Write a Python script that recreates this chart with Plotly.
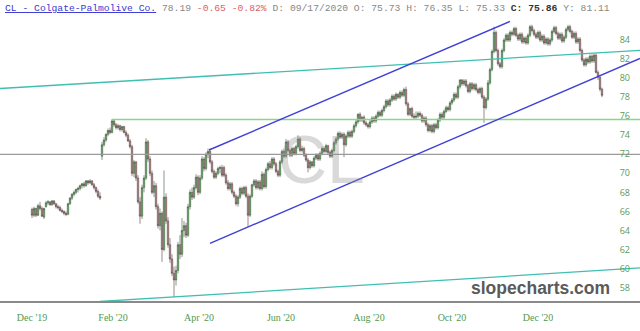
import plotly.graph_objects as go

# ---- OHLC data (one entry per trading day, index 0 = early Dec 2019) ----
opens = [
 66.2,65.6,66.3,65.6,66.6,66.3,65.4,66.5,66.9,67.0,
 66.7,67.1,66.8,66.5,66.4,66.1,66.0,65.8,65.7,66.8,
 67.4,67.8,68.0,68.3,68.4,68.7,68.9,68.7,69.2,69.0,
 69.2,68.8,68.5,68.1,67.6,
 71.8,73.0,73.5,74.1,74.5,74.3,75.5,75.1,74.8,75.0,
 74.6,74.9,74.3,74.0,73.4,72.8,70.0,71.2,69.5,67.0,
 65.5,68.5,69.5,73.3,71.5,70.0,68.0,68.7,66.5,64.5,
 65.8,62.0,67.5,65.0,62.5,61.0,59.5,58.8,59.8,62.5,
 61.5,64.0,64.5,63.5,66.5,68.0,67.5,68.5,69.6,68.0,
 69.5,71.5,70.5,72.0,
 72.3,71.2,70.2,69.6,70.0,70.5,70.6,70.6,69.8,69.0,
 68.4,68.9,68.0,67.6,66.8,67.5,68.4,67.9,68.5,67.6,
 65.6,67.6,68.8,69.2,68.5,69.1,68.4,69.9,68.6,70.4,
 71.0,70.6,71.5,71.0,70.2,69.8,71.2,72.3,71.8,73.3,
 72.4,71.9,72.6,72.1,72.8,73.6,72.4,72.6,71.9,71.4,
 70.6,71.2,70.8,71.6,71.9,71.5,72.1,72.6,72.3,72.9,
 72.2,71.8,72.4,73.2,73.6,74.2,73.8,74.1,73.0,73.9,
 74.3,73.9,74.4,75.0,75.4,76.2,75.6,75.9,75.3,75.1,
 74.9,75.4,75.8,75.5,76.0,76.4,76.1,76.6,77.0,77.6,
 77.2,77.7,78.1,77.8,78.3,78.0,78.5,78.2,78.8,77.3,
 76.2,76.8,76.0,75.9,76.0,76.3,76.1,75.5,75.8,75.1,
 74.5,75.0,74.4,75.1,74.8,75.6,76.2,75.9,76.5,76.9,
 76.7,77.4,77.7,78.3,78.0,79.1,79.8,79.4,79.7,79.2,
 78.6,79.4,78.9,79.3,78.8,78.5,78.9,78.0,76.9,77.8,
 79.5,80.9,82.8,84.8,82.9,81.5,81.2,82.9,84.0,84.5,
 84.0,84.8,84.6,85.2,84.5,84.1,84.6,83.8,84.2,83.7,
 84.5,85.4,85.0,84.6,84.3,84.8,84.0,84.4,83.7,84.1,
 83.6,84.0,84.9,85.3,84.7,84.2,84.6,83.9,84.3,85.1,
 85.4,84.9,84.3,84.7,83.8,84.1,82.9,81.9,81.4,82.0,
 81.7,82.3,81.8,82.4,80.6,80.1,78.84,
]
highs = [
 66.4,66.5,66.4,66.8,67.0,66.5,66.4,67.1,67.2,67.1,
 67.2,67.2,66.9,66.7,66.6,66.3,66.1,66.0,66.9,67.5,
 67.9,68.2,68.4,68.6,68.8,69.0,69.1,69.3,69.3,69.4,
 69.3,69.0,68.6,68.3,68.0,
 73.3,73.8,74.2,74.7,74.8,75.7,75.6,75.3,75.2,75.1,
 75.0,75.0,74.5,74.2,73.6,73.0,71.4,71.3,69.8,67.5,
 68.8,69.8,73.7,73.5,71.8,70.3,69.2,69.0,66.8,66.3,
 66.0,70.3,67.9,65.4,63.2,61.5,60.2,60.3,62.8,63.5,
 65.3,65.0,64.8,66.8,68.3,68.5,68.8,69.9,69.8,69.8,
 71.8,71.7,72.2,72.6,
 72.6,71.4,70.4,70.2,70.7,70.8,70.9,70.8,70.0,69.3,
 69.1,69.1,68.2,67.8,67.7,68.6,68.6,68.7,68.7,67.9,
 67.8,68.9,69.4,69.4,69.3,69.3,70.2,70.1,70.6,71.2,
 71.3,71.7,71.7,71.2,70.4,71.4,72.5,72.5,73.6,73.5,
 72.6,72.8,72.8,73.0,74.0,73.8,72.9,72.8,72.1,71.6,
 71.4,71.3,71.8,72.1,72.1,72.3,72.8,72.8,73.1,73.0,
 72.4,72.6,73.4,73.8,74.4,74.4,74.3,74.3,74.1,74.5,
 74.5,74.6,75.2,75.6,76.3,76.4,76.0,76.1,75.5,75.3,
 75.6,76.0,76.0,76.2,76.6,76.6,76.8,77.2,77.8,77.8,
 77.9,78.3,78.3,78.5,78.4,78.7,78.7,79.0,79.1,77.5,
 76.9,77.0,76.3,76.5,76.5,76.5,76.3,76.0,76.0,75.3,
 75.2,75.2,75.3,75.3,75.8,76.4,76.4,76.7,77.1,77.1,
 77.6,77.9,78.5,78.5,79.3,79.9,79.9,79.9,79.9,79.4,
 79.6,79.6,79.5,79.5,79.0,79.1,79.1,78.2,78.0,79.8,
 81.1,83.0,85.4,85.0,83.1,81.7,83.1,84.2,84.7,84.7,
 85.0,85.0,85.4,85.4,84.7,84.8,84.8,84.4,84.4,84.7,
 85.6,85.6,85.2,84.8,85.0,85.0,84.6,84.6,84.3,84.3,
 84.2,85.1,85.5,85.5,84.9,84.8,84.8,84.5,85.3,85.6,
 85.6,85.1,84.9,84.9,84.3,84.3,83.1,82.1,82.2,82.2,
 82.5,82.5,82.6,82.6,80.8,80.3,79.0,
]
lows = [
 65.3,65.4,65.4,65.5,66.1,65.4,65.2,66.4,66.7,66.6,
 66.6,66.7,66.3,66.2,66.0,65.8,65.6,65.5,65.6,66.7,
 67.2,67.6,67.8,68.0,68.2,68.4,68.5,68.6,68.8,68.9,
 68.7,68.3,67.9,67.4,67.2,
 71.4,72.8,73.3,73.9,74.1,74.2,74.9,74.6,74.6,74.4,
 74.4,74.2,73.8,73.3,72.6,69.7,69.6,69.2,66.8,64.7,
 65.2,68.0,69.3,71.2,69.7,67.8,67.5,66.2,64.2,64.0,
 60.7,61.8,64.7,62.2,60.6,59.2,57.0,58.2,59.5,61.0,
 61.2,63.3,63.2,63.3,66.2,67.2,67.3,68.3,67.7,67.8,
 69.3,70.2,70.3,71.6,
 71.0,70.0,69.4,69.4,69.8,70.0,69.6,69.6,68.8,68.2,
 68.2,67.8,67.4,66.6,66.5,67.3,67.7,67.7,67.4,64.4,
 65.4,67.4,68.6,68.3,68.3,68.2,68.2,68.4,68.4,70.2,
 70.4,70.4,70.8,70.0,69.6,69.6,71.0,71.6,71.6,72.2,
 71.7,71.7,71.9,71.9,72.6,72.2,72.2,71.7,71.2,70.1,
 70.4,70.6,70.6,71.4,71.3,71.3,71.9,72.1,72.1,72.0,
 71.6,71.6,72.2,73.0,73.4,73.6,73.6,71.7,72.8,73.7,
 73.7,73.7,74.2,74.8,75.2,75.4,75.4,75.1,74.9,74.7,
 74.7,75.2,75.3,75.3,75.8,75.9,75.9,76.4,76.8,77.0,
 77.0,77.5,77.6,77.6,77.8,77.8,78.0,78.0,77.1,76.0,
 76.0,75.8,75.7,75.7,75.8,75.9,75.3,75.3,74.9,74.3,
 74.3,74.2,74.2,74.6,74.6,75.4,75.7,75.7,76.3,76.5,
 76.5,77.2,77.5,77.8,77.8,78.9,79.2,79.2,79.0,78.4,
 78.4,78.7,78.7,78.6,78.3,78.3,77.8,75.3,76.7,77.6,
 79.3,80.7,82.6,82.7,81.3,81.0,81.0,82.7,83.8,83.8,
 83.8,84.4,84.4,84.3,83.9,83.9,83.6,83.6,83.5,83.5,
 84.3,84.8,84.4,84.1,84.1,83.8,83.8,83.5,83.5,83.4,
 83.4,83.8,84.7,84.5,84.0,84.0,83.7,83.7,84.1,84.9,
 84.7,84.1,84.1,83.6,83.6,82.7,81.7,81.2,81.2,81.5,
 81.5,81.6,81.6,80.5,79.8,78.6,78.0,
]
closes = [
 65.6,66.3,65.6,66.6,66.3,65.5,66.3,66.9,67.0,66.7,
 67.1,66.8,66.5,66.4,66.1,66.0,65.8,65.7,66.8,67.4,
 67.8,68.0,68.3,68.4,68.7,68.9,68.7,69.2,69.0,69.2,
 68.8,68.5,68.1,67.6,67.4,
 73.0,73.5,74.1,74.5,74.3,75.5,75.1,74.8,75.0,74.6,
 74.9,74.3,74.0,73.4,72.8,70.0,71.2,69.5,67.0,65.5,
 68.5,69.5,73.3,71.5,70.0,68.0,68.7,66.5,64.5,65.8,
 62.0,67.5,65.0,62.5,61.0,59.5,58.8,59.8,62.5,61.5,
 64.0,64.5,63.5,66.5,68.0,67.5,68.5,69.6,68.0,69.5,
 71.5,70.5,72.0,72.3,
 71.2,70.2,69.6,70.0,70.5,70.6,69.8,69.8,69.0,68.4,
 68.9,68.0,67.6,66.8,67.5,68.4,67.9,68.5,67.6,65.6,
 67.6,68.8,69.2,68.5,69.1,68.4,69.9,68.6,70.4,71.0,
 70.6,71.5,71.0,70.2,69.8,71.2,72.3,71.8,73.3,72.4,
 71.9,72.6,72.1,72.8,73.6,72.4,72.6,71.9,71.4,70.6,
 71.2,70.8,71.6,71.9,71.5,72.1,72.6,72.3,72.9,72.2,
 71.8,72.4,73.2,73.6,74.2,73.8,74.1,73.0,73.9,74.3,
 73.9,74.4,75.0,75.4,76.2,75.6,75.9,75.3,75.1,74.9,
 75.4,75.8,75.5,76.0,76.4,76.1,76.6,77.0,77.6,77.2,
 77.7,78.1,77.8,78.3,78.0,78.5,78.2,78.8,77.3,76.2,
 76.8,76.0,75.9,76.0,76.3,76.1,75.5,75.8,75.1,74.5,
 75.0,74.4,75.1,74.8,75.6,76.2,75.9,76.5,76.9,76.7,
 77.4,77.7,78.3,78.0,79.1,79.8,79.4,79.7,79.2,78.6,
 79.4,78.9,79.3,78.8,78.5,78.9,78.0,76.9,77.8,79.5,
 80.9,82.8,84.8,82.9,81.5,81.2,82.9,84.0,84.5,84.0,
 84.8,84.6,85.2,84.5,84.1,84.6,83.8,84.2,83.7,84.5,
 85.4,85.0,84.6,84.3,84.8,84.0,84.4,83.7,84.1,83.6,
 84.0,84.9,85.3,84.7,84.2,84.6,83.9,84.3,85.1,85.4,
 84.9,84.3,84.7,83.8,84.1,82.9,81.9,81.4,82.0,81.7,
 82.3,81.8,82.4,80.6,80.1,78.84,78.19,
]
day_index = list(range(len(closes)))

# ---- axis labels ----
month_pos = [0, 40.5, 83.5, 124.5, 168.5, 210, 253]
month_labels = ["Dec '19", "Feb '20", "Apr '20", "Jun '20", "Aug '20", "Oct '20", "Dec '20"]
price_ticks = [58, 60, 62, 64, 66, 68, 70, 72, 74, 76, 78, 80, 82, 84]

# ---- drawn trend lines (index, price) ----
chan_upper_x, chan_upper_y = [88.5, 239], [72.45, 85.95]
chan_lower_x, chan_lower_y = [89, 304], [62.65, 82.07]
teal_top_x, teal_top_y = [-16, 304], [78.91, 82.92]
teal_bot_x, teal_bot_y = [34, 304], [56.54, 60.06]
hline_gray = 72.0
hline_green = 75.65
green_start = 40

X0, X1 = -16, 304
Y0, Y1 = 56.59, 86.42

fig = go.Figure()

line_traces = [
    (teal_top_x, teal_top_y, "#3fbfb2", 1.3),
    (teal_bot_x, teal_bot_y, "#3fbfb2", 1.3),
    ([X0, X1], [hline_gray, hline_gray], "#9a9a9a", 1.2),
    ([green_start, X1], [hline_green, hline_green], "#86d886", 1.5),
    (chan_upper_x, chan_upper_y, "#4040d8", 1.4),
    (chan_lower_x, chan_lower_y, "#4040d8", 1.4),
]
for xs, ys, col, w in line_traces:
    fig.add_trace(go.Scatter(x=xs, y=ys, mode="lines",
                             line=dict(color=col, width=w),
                             hoverinfo="skip", showlegend=False))

fig.add_trace(go.Candlestick(
    x=day_index, open=opens, high=highs, low=lows, close=closes,
    increasing=dict(line=dict(color="#3c523c", width=0.6), fillcolor="#66c266"),
    decreasing=dict(line=dict(color="#523c3c", width=0.6), fillcolor="#c99494"),
    whiskerwidth=0, showlegend=False,
))

header = ("<span style='color:#3a3ad0'><u>CL - Colgate-Palmolive Co.</u></span>"
          "<span style='color:#888'> 78.19 </span>"
          "<span style='color:#e06060'>-0.65 -0.82%</span>"
          "<span style='color:#888'> D: 09/17/2020 O: 75.73 H: 76.35 L: 75.33 </span>"
          "<span style='color:#333'><b>C: 75.86</b></span>"
          "<span style='color:#888'> Y: 81.11</span>")

fig.update_layout(
    width=640, height=331,
    margin=dict(l=0, r=0, t=17, b=30),
    paper_bgcolor="white", plot_bgcolor="white",
    boxgap=0,
    showlegend=False,
    xaxis=dict(range=[X0, X1], rangeslider=dict(visible=False),
               showgrid=False, zeroline=False,
               showline=True, linecolor="#8a8a8a", linewidth=1.5,
               tickvals=month_pos, ticktext=month_labels, ticks="",
               tickfont=dict(family="Liberation Serif", size=10, color="#4f9a4f"),
               ticklabelstandoff=6),
    yaxis=dict(range=[Y0, Y1], side="right", ticklabelposition="inside",
               showgrid=False, zeroline=False, showline=False,
               tickvals=price_ticks, ticks="",
               tickfont=dict(family="Open Sans", size=9, color="#5a9a5a"),
               ticklabelstandoff=7),
    annotations=[
        dict(text=header, xref="paper", yref="paper", x=0.004, y=1.03,
             xanchor="left", yanchor="middle", showarrow=False,
             font=dict(family="Liberation Mono", size=9.7, color="#888")),
        dict(text="CL", xref="paper", yref="paper", x=0.502, y=0.5,
             xanchor="center", yanchor="middle", showarrow=False,
             font=dict(family="Liberation Sans", size=68, color="rgba(140,140,140,0.33)")),
        dict(text="<b>slopecharts.com</b>", xref="paper", yref="paper", x=0.844, y=0.045,
             xanchor="center", yanchor="middle", showarrow=False,
             font=dict(family="Liberation Sans", size=17.5, color="#5a5a5a")),
    ],
)

fig.write_html("out.html")
